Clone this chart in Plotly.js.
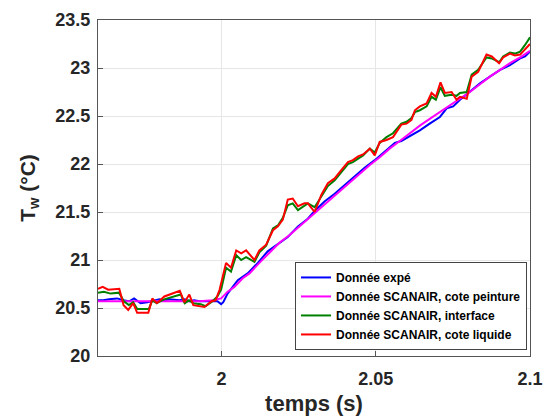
<!DOCTYPE html>
<html>
<head>
<meta charset="utf-8">
<script src="https://cdn.plot.ly/plotly-3.0.1.min.js"></script>
<style>html,body{margin:0;padding:0;background:#fff;}#chart{width:543px;height:418px;}</style>
</head>
<body>
<div id="chart"></div>
<script>
// Donnée expé
const tExpe = [1.96,1.9617,1.9636,1.9662,1.9682,1.9701,1.9717,1.9738,1.9760,1.9782,1.9799,1.9815,1.9831,1.9864,1.9880,1.9896,1.9912,1.9929,1.9945,1.9968,1.9987,1.9999,2.0006,2.0020,2.0053,2.0085,2.0118,2.0150,2.0183,2.0215,2.0248,2.0280,2.0302,2.0334,2.0367,2.0399,2.0432,2.0464,2.0497,2.0529,2.0562,2.0583,2.0610,2.0627,2.0643,2.0675,2.0708,2.0730,2.0751,2.0773,2.0805,2.0838,2.0870,2.0903,2.0935,2.0968,2.0984,2.1];
const vExpe = [20.58,20.58,20.59,20.60,20.58,20.57,20.60,20.55,20.56,20.58,20.59,20.58,20.59,20.58,20.59,20.57,20.58,20.57,20.57,20.57,20.57,20.54,20.56,20.65,20.79,20.86,20.97,21.09,21.17,21.24,21.35,21.43,21.51,21.61,21.69,21.78,21.87,21.96,22.04,22.13,22.22,22.24,22.29,22.32,22.35,22.42,22.49,22.58,22.60,22.67,22.75,22.84,22.91,22.98,23.03,23.10,23.12,23.17];

// Donnée SCANAIR, cote peinture
const tPeint = [1.96,1.9701,1.9799,1.9929,1.9971,1.9999,2.0020,2.0042,2.0069,2.0091,2.0123,2.0156,2.0188,2.0221,2.0253,2.0286,2.0318,2.0351,2.0383,2.0416,2.0448,2.0481,2.0513,2.0545,2.0578,2.0610,2.0643,2.0675,2.0708,2.0740,2.0773,2.0805,2.0838,2.0870,2.0903,2.0935,2.0968,2.1];
const vPeint = [20.57,20.57,20.57,20.57,20.58,20.60,20.67,20.72,20.81,20.86,20.97,21.08,21.18,21.26,21.35,21.45,21.54,21.63,21.72,21.81,21.90,21.99,22.07,22.16,22.24,22.32,22.40,22.47,22.54,22.61,22.68,22.75,22.83,22.91,22.98,23.05,23.11,23.18];

// Donnée SCANAIR, interface
const tInter = [1.96,1.9619,1.9641,1.9668,1.9684,1.9700,1.9714,1.9727,1.9765,1.9776,1.9790,1.9814,1.9868,1.9881,1.9895,1.9909,1.9933,1.9949,1.9971,1.9987,1.9999,2.0015,2.0031,2.0048,2.0064,2.0080,2.0107,2.0123,2.0145,2.0167,2.0183,2.0199,2.0215,2.0231,2.0248,2.0269,2.0280,2.0302,2.0324,2.0345,2.0367,2.0389,2.0410,2.0426,2.0443,2.0459,2.0481,2.0497,2.0513,2.0535,2.0556,2.0583,2.0600,2.0616,2.0627,2.0643,2.0665,2.0681,2.0695,2.0710,2.0724,2.0746,2.0762,2.0773,2.0795,2.0811,2.0832,2.0859,2.0876,2.0900,2.0913,2.0935,2.0951,2.0968,2.0984,2.1];
const vInter = [20.66,20.67,20.65,20.66,20.57,20.53,20.56,20.49,20.49,20.58,20.55,20.59,20.64,20.55,20.58,20.55,20.54,20.52,20.57,20.62,20.69,20.92,20.88,21.05,21.00,21.03,20.98,21.08,21.15,21.33,21.36,21.44,21.57,21.59,21.52,21.57,21.59,21.55,21.66,21.77,21.83,21.92,22.00,22.02,22.06,22.09,22.16,22.12,22.22,22.28,22.32,22.42,22.44,22.48,22.54,22.56,22.60,22.70,22.67,22.80,22.71,22.72,22.71,22.74,22.75,22.93,22.98,23.11,23.10,23.06,23.12,23.16,23.15,23.17,23.24,23.32];

// Donnée SCANAIR, cote liquide
const tLiq = [1.96,1.9615,1.9633,1.9669,1.9683,1.9698,1.9714,1.9727,1.9763,1.9776,1.9791,1.9815,1.9865,1.9880,1.9896,1.9909,1.9945,1.9968,1.9981,1.9994,2.0015,2.0031,2.0048,2.0064,2.0080,2.0107,2.0123,2.0145,2.0167,2.0183,2.0199,2.0215,2.0231,2.0248,2.0269,2.0280,2.0302,2.0324,2.0345,2.0367,2.0389,2.0410,2.0426,2.0443,2.0459,2.0481,2.0497,2.0513,2.0535,2.0556,2.0583,2.0600,2.0616,2.0627,2.0643,2.0665,2.0681,2.0695,2.0710,2.0724,2.0746,2.0762,2.0773,2.0795,2.0811,2.0832,2.0859,2.0876,2.0900,2.0913,2.0935,2.0951,2.0968,2.0984,2.1];
const vLiq = [20.70,20.72,20.69,20.70,20.53,20.48,20.55,20.45,20.45,20.60,20.55,20.62,20.68,20.56,20.64,20.53,20.51,20.57,20.58,20.69,20.97,20.92,21.10,21.07,21.10,21.00,21.10,21.16,21.31,21.35,21.42,21.63,21.64,21.56,21.59,21.59,21.50,21.68,21.80,21.85,21.94,22.02,22.04,22.08,22.10,22.16,22.09,22.23,22.25,22.28,22.41,22.42,22.46,22.56,22.60,22.63,22.74,22.70,22.85,22.74,22.75,22.67,22.70,22.68,22.91,22.96,23.14,23.12,23.05,23.11,23.15,23.13,23.14,23.19,23.25];

const names = ['Donnée expé','Donnée SCANAIR, cote peinture','Donnée SCANAIR, interface','Donnée SCANAIR, cote liquide'];
const colors = ['#0000ff','#ff00ff','#008000','#ff0000'];
const xs = [tExpe,tPeint,tInter,tLiq];
const ys = [vExpe,vPeint,vInter,vLiq];

const xTicks = [2, 2.05, 2.1];
const xTickText = ['2','2.05','2.1'];
const yTicks = [20,20.5,21,21.5,22,22.5,23,23.5];
const yTickText = ['20','20.5','21','21.5','22','22.5','23','23.5'];

const traces = names.map((n,i)=>({
  x: xs[i], y: ys[i], name: n, type:'scatter', mode:'lines',
  line:{color:colors[i], width:2}
}));

const fam = 'Liberation Sans, Arial, Helvetica, sans-serif';
const layout = {
  width:543, height:418,
  margin:{l:98, r:13, t:20, b:62, pad:0},
  paper_bgcolor:'#fff', plot_bgcolor:'#fff',
  showlegend:true,
  font:{family:fam, color:'#262626'},
  xaxis:{
    range:[1.96,2.1], tickvals:xTicks, ticktext:xTickText,
    ticks:'inside', ticklen:5, tickcolor:'#555', tickwidth:1,
    showline:true, mirror:true, linecolor:'#555', linewidth:1,
    showgrid:true, gridcolor:'#e6e6e6', gridwidth:1, zeroline:false,
    ticklabelstandoff:6,
    tickfont:{family:fam, size:18, weight:'bold', color:'#262626'},
    title:{text:'temps (s)', font:{family:fam, size:22, weight:'bold', color:'#262626'}, standoff:8}
  },
  yaxis:{
    range:[20,23.5], tickvals:yTicks, ticktext:yTickText,
    ticks:'inside', ticklen:5, tickcolor:'#555', tickwidth:1,
    showline:true, mirror:true, linecolor:'#555', linewidth:1,
    showgrid:true, gridcolor:'#e6e6e6', gridwidth:1, zeroline:false,
    ticklabelstandoff:3,
    tickfont:{family:fam, size:18, weight:'bold', color:'#262626'},
    title:{text:'T<sub>w</sub> (°C)', font:{family:fam, size:21, weight:'bold', color:'#262626'}, standoff:14}
  },
  legend:{
    x:0.993, y:0.018, xanchor:'right', yanchor:'bottom',
    bgcolor:'#fff', bordercolor:'#444', borderwidth:1,
    font:{family:fam, size:12, weight:'bold', color:'#000'},
    itemwidth:30, tracegroupgap:0
  }
};
Plotly.newPlot('chart', traces, layout, {displayModeBar:false, staticPlot:true});
</script>
</body>
</html>
